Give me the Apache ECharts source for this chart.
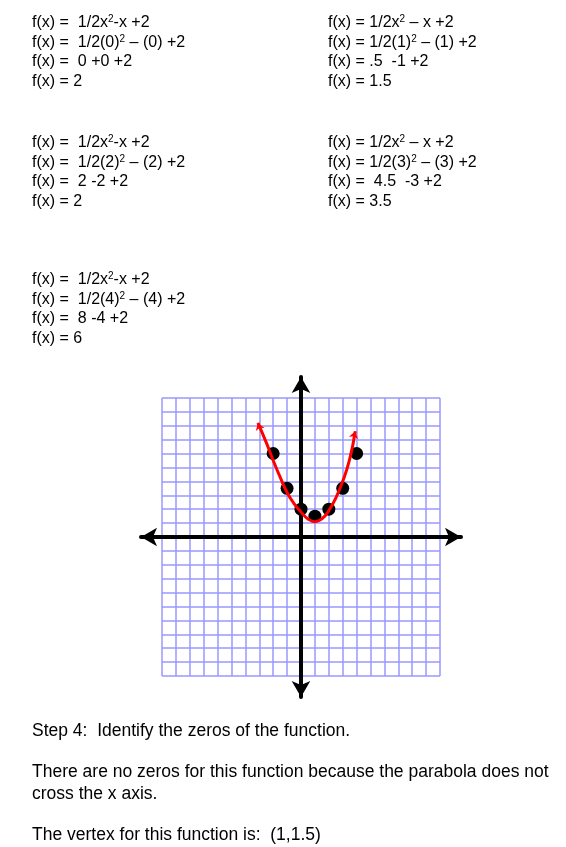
<!DOCTYPE html>
<html>
<head>
<meta charset="utf-8">
<script src="https://cdn.jsdelivr.net/npm/echarts@6/dist/echarts.min.js"></script>
<style>html,body{margin:0;padding:0;background:#fff}#chart{width:566px;height:847px}</style>
</head>
<body>
<div id="chart"></div>
<script>
// table points (x, f(x))
const pointX = [-2, -1, 0, 1, 2, 3, 4];
const pointY = [6, 3.5, 2, 1.5, 2, 3.5, 6];
// hand drawn red curve
const curveX = [-3.1, -2.5, -2, -1.5, -1, -0.5, 0, 0.5, 1, 1.5, 2, 2.5, 3, 3.5, 3.9];
const curveY = [8.2, 6.8, 5.5, 4.3, 3.2, 2.4, 1.8, 1.3, 1.1, 1.3, 1.9, 2.8, 4.0, 5.6, 7.6];

const leftBlocks = [
  ["f(x) =  1/2x{s|2}-x +2", "f(x) =  1/2(0){s|2} – (0) +2", "f(x) =  0 +0 +2", "f(x) = 2"],
  ["f(x) =  1/2x{s|2}-x +2", "f(x) =  1/2(2){s|2} – (2) +2", "f(x) =  2 -2 +2", "f(x) = 2"],
  ["f(x) =  1/2x{s|2}-x +2", "f(x) =  1/2(4){s|2} – (4) +2", "f(x) =  8 -4 +2", "f(x) = 6"],
];
const rightBlocks = [
  ["f(x) = 1/2x{s|2} – x +2", "f(x) = 1/2(1){s|2} – (1) +2", "f(x) = .5  -1 +2", "f(x) = 1.5"],
  ["f(x) = 1/2x{s|2} – x +2", "f(x) = 1/2(3){s|2} – (3) +2", "f(x) =  4.5  -3 +2", "f(x) = 3.5"],
];
const footerLines = [
  ["Step 4:  Identify the zeros of the function.", 732],
  ["There are no zeros for this function because the parabola does not", 773],
  ["cross the x axis.", 795],
  ["The vertex for this function is:  (1,1.5)", 836],
];

const chart = echarts.init(document.getElementById("chart"));

const font = "Liberation Sans, Arial, sans-serif";
const textItems = [];
function addBlock(lines, x, y0) {
  lines.forEach((t, i) => {
    textItems.push({
      type: "text", left: x, top: y0 + i * 20,
      style: {
        text: t, fill: "#000", font: "16px " + font,
        rich: { s: { fontSize: 10, verticalAlign: "top", padding: [0, 0, 8, 0], fontFamily: font } },
      },
    });
  });
}
addBlock(leftBlocks[0], 32, 14);
addBlock(rightBlocks[0], 328, 14);
addBlock(leftBlocks[1], 32, 134);
addBlock(rightBlocks[1], 328, 134);
addBlock(leftBlocks[2], 32, 271);
footerLines.forEach(([t, y]) => {
  textItems.push({ type: "text", left: 32, top: y - 10, style: { text: t, fill: "#000", font: "17.5px " + font } });
});

const curveData = curveX.map((x, i) => {
  const item = { value: [x, curveY[i]] };
  if (i === 0) item.symbol = "arrow", item.symbolRotate = 20, item.symbolSize = 7;
  if (i === curveX.length - 1) item.symbol = "arrow", item.symbolRotate = -15, item.symbolSize = 7;
  return item;
});

chart.setOption({
  animation: false,
  graphic: textItems,
  grid: [
    { left: 141, top: 377, width: 320, height: 320 },
    { left: 162, top: 398, width: 278, height: 278 },
  ],
  xAxis: [
    {
      gridIndex: 0, type: "value", min: -11.5, max: 11.5, position: "bottom",
      axisLine: { onZero: true, lineStyle: { color: "#000", width: 4 }, symbol: ["arrow", "arrow"], symbolSize: [14, 16] },
      axisTick: { show: false }, axisLabel: { show: false }, splitLine: { show: false },
    },
    {
      gridIndex: 1, type: "value", min: -10, max: 10, interval: 1,
      axisLine: { show: false }, axisTick: { show: false }, axisLabel: { show: false },
      splitLine: { show: true, lineStyle: { color: "#9999ff", width: 1.5 } },
    },
  ],
  yAxis: [
    {
      gridIndex: 0, type: "value", min: -11.5, max: 11.5,
      axisLine: { onZero: true, lineStyle: { color: "#000", width: 4 }, symbol: ["arrow", "arrow"], symbolSize: [14, 16] },
      axisTick: { show: false }, axisLabel: { show: false }, splitLine: { show: false },
    },
    {
      gridIndex: 1, type: "value", min: -10, max: 10, interval: 1,
      axisLine: { show: false }, axisTick: { show: false }, axisLabel: { show: false },
      splitLine: { show: true, lineStyle: { color: "#9999ff", width: 1.5 } },
    },
  ],
  series: [
    {
      type: "scatter", xAxisIndex: 0, yAxisIndex: 0, z: 3,
      data: pointX.map((x, i) => [x, pointY[i]]),
      symbolSize: 13, itemStyle: { color: "#000", opacity: 1 },
    },
    {
      type: "line", xAxisIndex: 0, yAxisIndex: 0, z: 5, smooth: true,
      data: curveData, symbol: "none", showSymbol: true,
      lineStyle: { color: "#ff0000", width: 3 }, itemStyle: { color: "#ff0000" },
    },
  ],
});
</script>
</body>
</html>
